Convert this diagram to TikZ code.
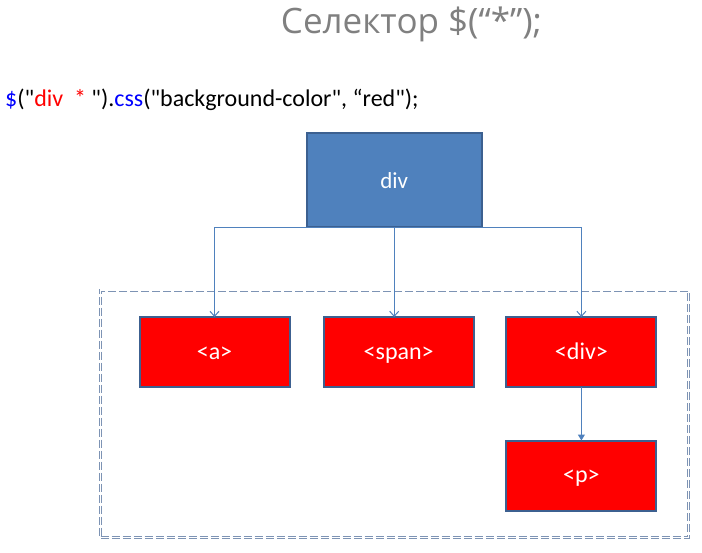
\documentclass[tikz,border=0pt]{standalone}
\usepackage{fontspec}
\setmainfont{Carlito}[Ligatures=TeXOff]
\newfontfamily\titlefont{Open Sans}[Ligatures=TeXOff]
\usetikzlibrary{arrows.meta}
\definecolor{boxblue}{HTML}{4F81BD}
\definecolor{boxedge}{HTML}{3C6090}
\definecolor{redfill}{HTML}{FF0000}
\definecolor{linkblue}{HTML}{4F81BD}
\definecolor{dashcol}{HTML}{7D93B4}
\definecolor{titlegray}{HTML}{808080}
\definecolor{codeblue}{HTML}{0000FF}
\begin{document}
\begin{tikzpicture}[x=1pt,y=-1pt,
  parentbox/.style={draw=boxedge, fill=boxblue, line width=2pt, minimum width=175pt, minimum height=94pt, inner sep=0pt, outer sep=0pt, text=white, font=\fontsize{23}{27}\selectfont, text height=16pt, text depth=0pt},
  childbox/.style={draw=boxedge, fill=redfill, line width=2pt, minimum width=150pt, minimum height=70pt, inner sep=0pt, outer sep=0pt, text=white, font=\fontsize{24}{28}\selectfont, text height=14pt, text depth=0pt},
  link/.style={draw=linkblue, line width=1pt},
  openhead/.style={-{Straight Barb[length=5pt,width=9pt,line width=1pt]}},
  filledhead/.style={-{Triangle[length=6pt,width=7pt]}},
  region/.style={draw=dashcol, line width=0.9pt, double=white, double distance=1.2pt, dash pattern=on 8pt off 3pt}
]
\useasboundingbox (0,0) rectangle (702,552);
% title and code line
\node[anchor=base, font=\titlefont\fontsize{35}{40}\selectfont, text=titlegray, inner sep=0pt] (title) at (411.5,33) {Селектор \$(“*”);};
\node[anchor=base west, font=\fontsize{24}{28}\selectfont, inner sep=0pt] (code) at (5,106)
  {\textcolor{codeblue}{\$}("\textcolor{redfill}{div\ \ *}\ ").\textcolor{codeblue}{css}("background-color", “red");};
% dashed region
\node[region, minimum width=588pt, minimum height=247.5pt, inner sep=0pt, outer sep=0pt] (area) at (394.5,413.75) {};
% boxes
\node[parentbox] (div) at (394.2,180) {div};
\node[childbox] (a) at (214.5,352) {<a>};
\node[childbox] (span) at (398.7,352) {<span>};
\node[childbox] (div2) at (581.4,352) {<div>};
\node[childbox] (p) at (581.4,475.5) {<p>};
% connectors
\draw[link, openhead] (div.south) -| (a.north);
\draw[link, openhead] (div.south) -- (div.south |- span.north);
\draw[link, openhead] (div.south) -| (div2.north);
\draw[link, filledhead] (div2.south) -- (p.north);
\end{tikzpicture}
\end{document}
